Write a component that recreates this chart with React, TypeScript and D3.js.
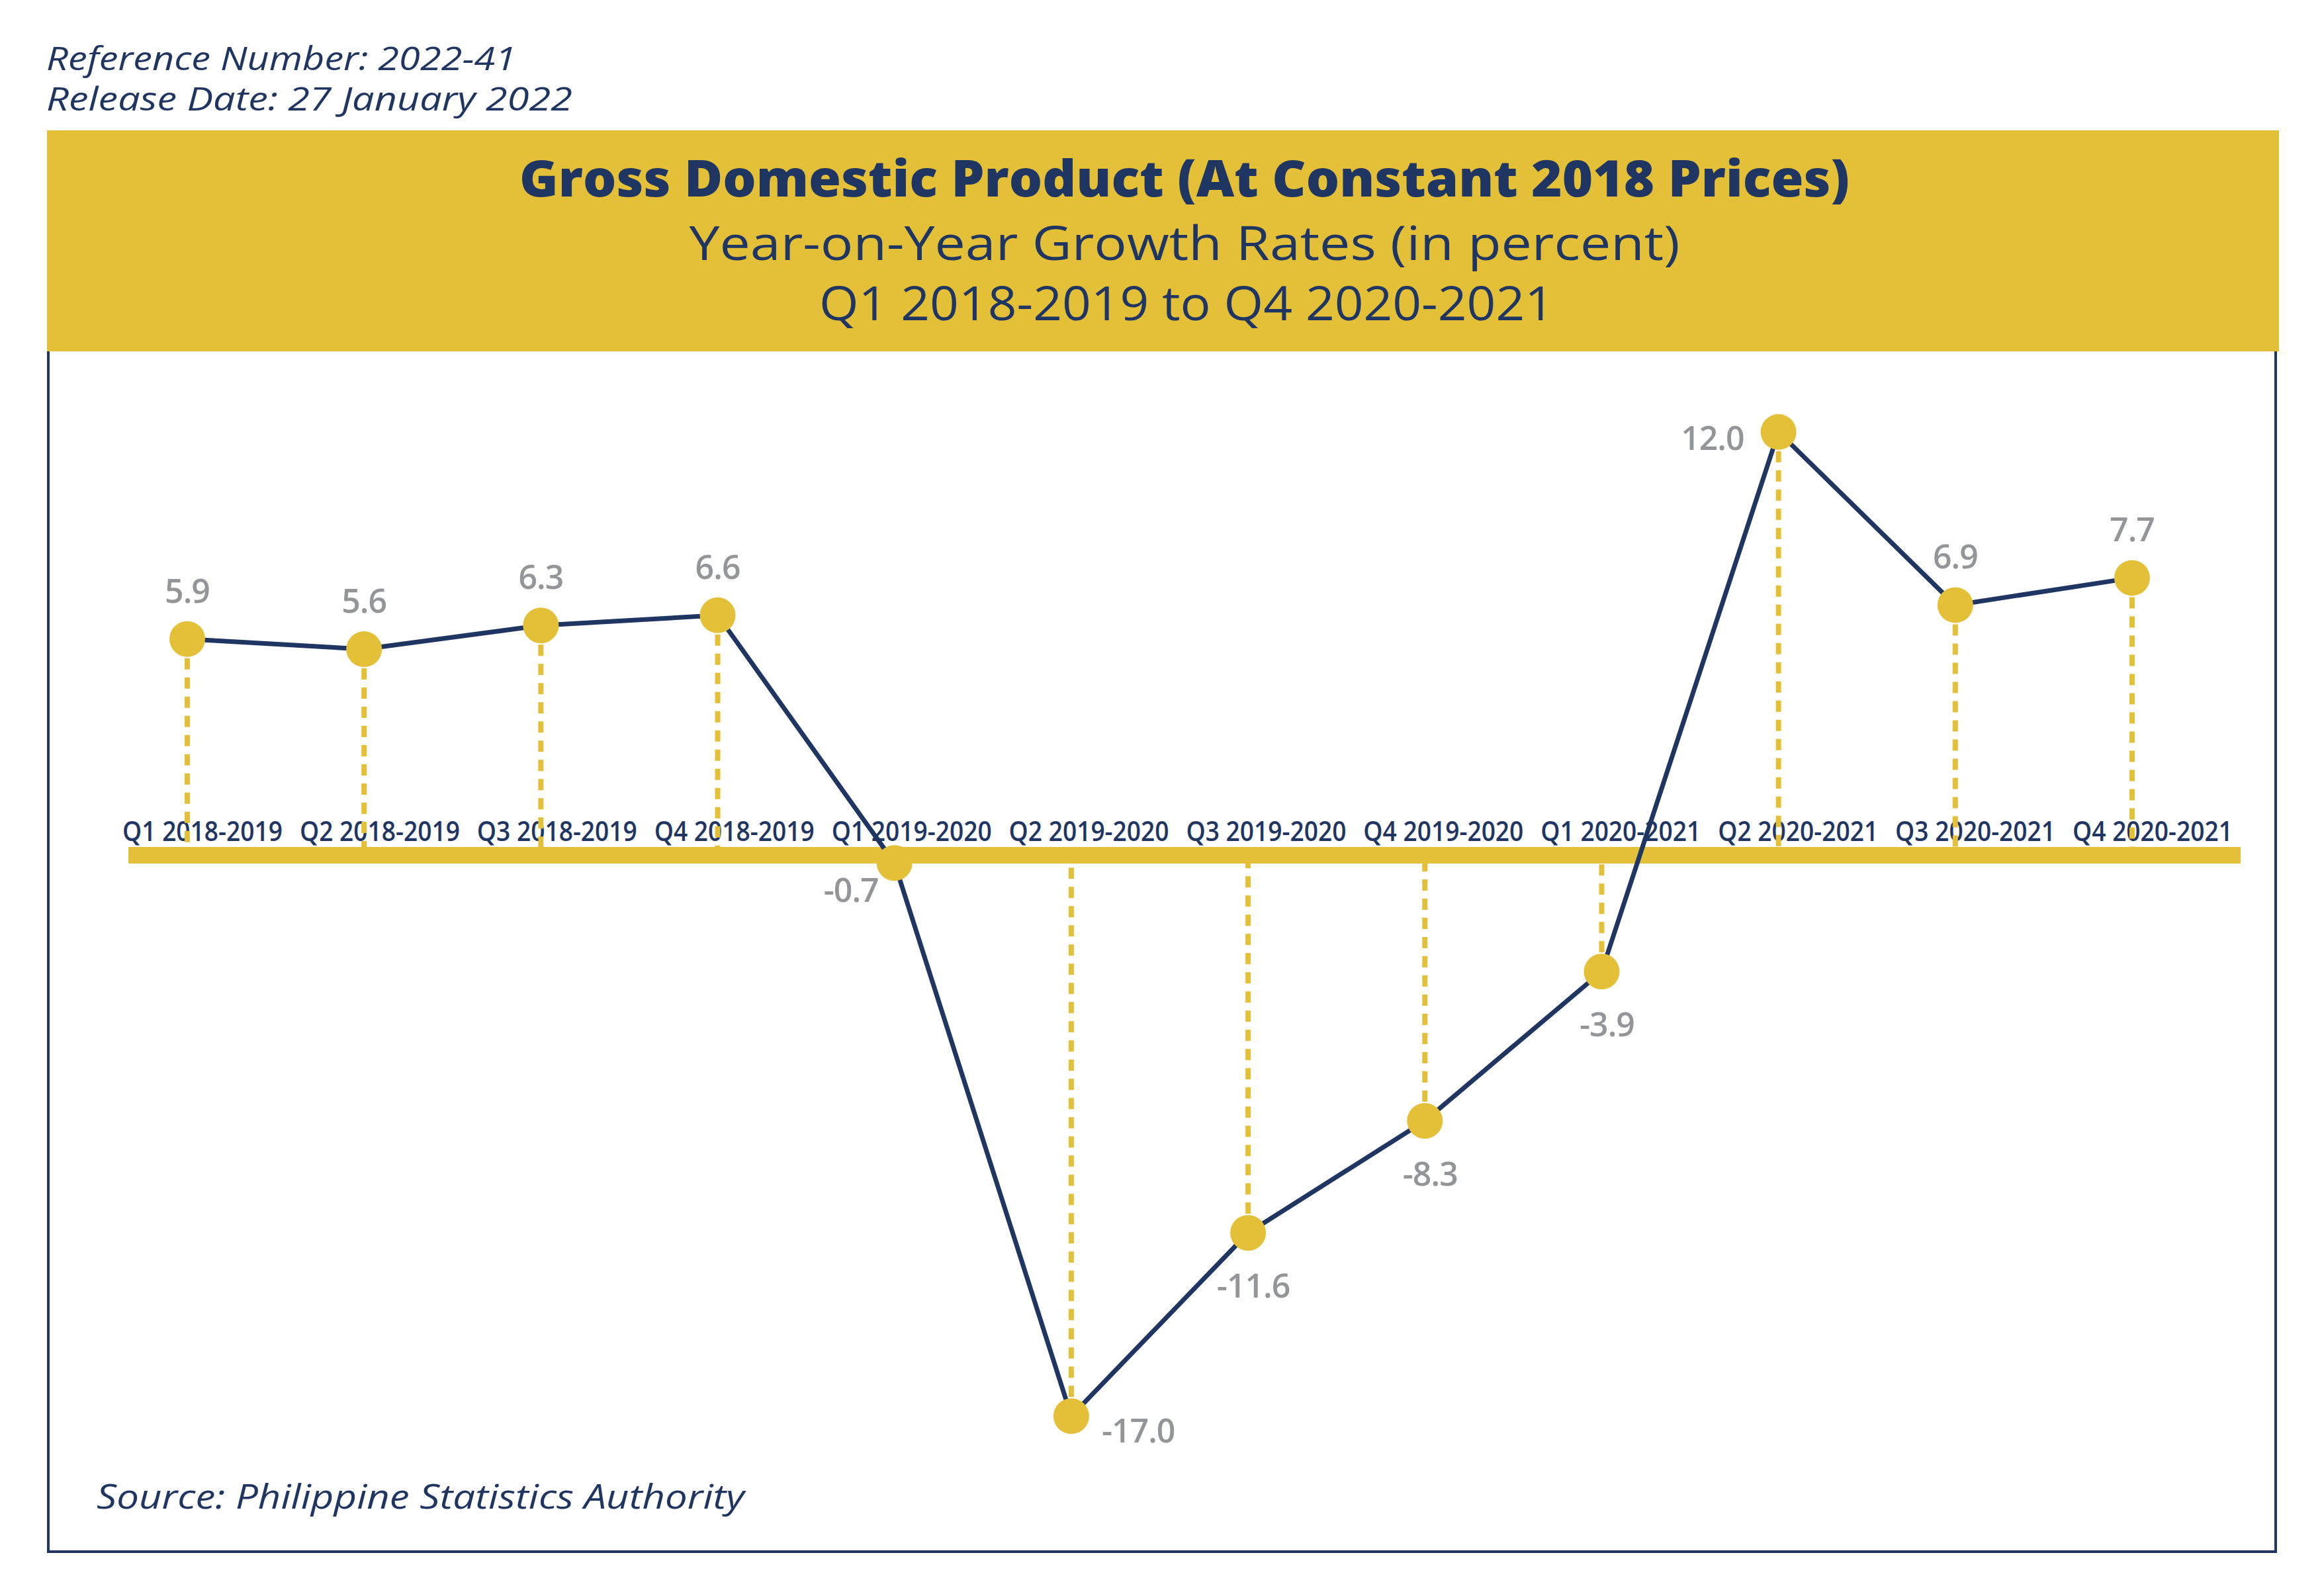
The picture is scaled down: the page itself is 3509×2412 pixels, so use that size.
import React from "react";
import * as d3 from "d3";

const categories = [
  "Q1 2018-2019", "Q2 2018-2019", "Q3 2018-2019", "Q4 2018-2019",
  "Q1 2019-2020", "Q2 2019-2020", "Q3 2019-2020", "Q4 2019-2020",
  "Q1 2020-2021", "Q2 2020-2021", "Q3 2020-2021", "Q4 2020-2021",
];
const growth = [5.9, 5.6, 6.3, 6.6, -0.7, -17.0, -11.6, -8.3, -3.9, 12.0, 6.9, 7.7];
const labelPlacement = [
  "above", "above", "above", "above",
  "belowLeft", "belowRight", "below", "below", "below",
  "left", "above", "above",
];
const headerLines = ["Reference Number: 2022-41", "Release Date: 27 January 2022"];
const titleLines = [
  "Gross Domestic Product (At Constant 2018 Prices)",
  "Year-on-Year Growth Rates (in percent)",
  "Q1 2018-2019 to Q4 2020-2021",
];
const sourceText = "Source: Philippine Statistics Authority";

const W = 3509;
const H = 2412;
const NAVY = "#1f3562";
const GOLD = "#e4c039";
const GRAY = "#939598";
const FONT = "'Open Sans', 'Noto Sans', sans-serif";

const placementOffsets: Record<string, { anchor: string; dx: number; dy: number }> = {
  above: { anchor: "middle", dx: 0, dy: -55 },
  below: { anchor: "middle", dx: 8, dy: 98 },
  belowLeft: { anchor: "end", dx: -24, dy: 59 },
  belowRight: { anchor: "start", dx: 46, dy: 40 },
  left: { anchor: "end", dx: -52, dy: 27 },
};

export default function App() {
  const x = d3.scalePoint<string>().domain(categories).range([283, 3222]);
  const xLabel = d3.scalePoint<string>().domain(categories).range([306, 3253]);
  const y = d3.scaleLinear().domain([-20, 15]).range([2294, 499]);

  const barTop = 1280;
  const barH = 25;
  const barMid = barTop + barH / 2;

  const pts = categories.map((c, i) => ({ c, v: growth[i], x: x(c) as number, y: y(growth[i]), p: labelPlacement[i] }));
  const line = d3.line<{ x: number; y: number }>().x((d) => d.x).y((d) => d.y);

  return (
    <svg
      width={W}
      height={H}
      viewBox={`0 0 ${W} ${H}`}
      style={{ position: "absolute", left: 0, top: 0, background: "#fff" }}
    >
      <rect x={0} y={0} width={W} height={H} fill="#fff" />
      {/* header */}
      <text x={70} y={106} fontFamily={FONT} fontStyle="italic" fontSize={50} fill={NAVY}
        textLength={710} lengthAdjust="spacingAndGlyphs">{headerLines[0]}</text>
      <text x={70} y={167} fontFamily={FONT} fontStyle="italic" fontSize={50} fill={NAVY}
        textLength={795} lengthAdjust="spacingAndGlyphs">{headerLines[1]}</text>

      {/* frame */}
      <rect x={73} y={240} width={3366} height={2105} fill="none" stroke={NAVY} strokeWidth={4} />
      {/* banner */}
      <rect x={71} y={197} width={3373} height={334} fill={GOLD} />
      <text x={1790} y={297} textAnchor="middle" fontFamily={FONT} fontWeight={800} fontSize={76} fill={NAVY}
        textLength={2010} lengthAdjust="spacingAndGlyphs">{titleLines[0]}</text>
      <text x={1790} y={393} textAnchor="middle" fontFamily={FONT} fontWeight={400} fontSize={72} fill={NAVY}
        textLength={1497} lengthAdjust="spacingAndGlyphs">{titleLines[1]}</text>
      <text x={1793} y={484} textAnchor="middle" fontFamily={FONT} fontWeight={400} fontSize={72} fill={NAVY}
        textLength={1110} lengthAdjust="spacingAndGlyphs">{titleLines[2]}</text>

      {/* axis labels */}
      {categories.map((c) => (
        <text key={c} x={xLabel(c)} y={1271} textAnchor="middle" fontFamily={FONT} fontWeight={600}
          fontSize={41} fill={NAVY} textLength={242} lengthAdjust="spacingAndGlyphs">{c}</text>
      ))}

      {/* dashed drop lines */}
      {pts.map((d) => (
        <line key={"d" + d.c} x1={d.x} x2={d.x} y1={d.y} y2={barMid}
          stroke={GOLD} strokeWidth={8} strokeDasharray="17,12" />
      ))}

      {/* zero bar */}
      <rect x={194} y={barTop} width={3386 - 194} height={barH} fill={GOLD} />

      {/* line */}
      <path d={line(pts) || ""} fill="none" stroke={NAVY} strokeWidth={7} strokeLinejoin="miter" />

      {/* points */}
      {pts.map((d) => (
        <circle key={"c" + d.c} cx={d.x} cy={d.y} r={27} fill={GOLD} />
      ))}

      {/* value labels */}
      {pts.map((d) => {
        const o = placementOffsets[d.p];
        return (
          <text key={"v" + d.c} x={d.x + o.dx} y={d.y + o.dy} textAnchor={o.anchor as any}
            fontFamily={FONT} fontWeight={600} fontSize={50} fill={GRAY} letterSpacing={-1}>
            {d.v.toFixed(1)}
          </text>
        );
      })}

      {/* source */}
      <text x={146} y={2280} fontFamily={FONT} fontStyle="italic" fontSize={52} fill={NAVY}
        textLength={979} lengthAdjust="spacingAndGlyphs">{sourceText}</text>
    </svg>
  );
}
